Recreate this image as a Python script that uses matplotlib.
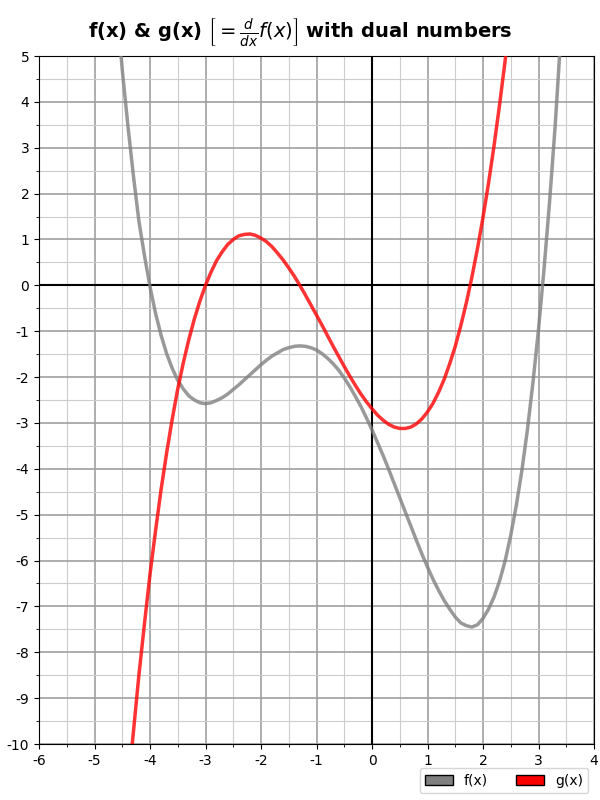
import matplotlib
matplotlib.use('Agg')
import numpy as np
import matplotlib.pyplot as plt
from matplotlib.patches import Patch
from matplotlib.ticker import MultipleLocator

x_f = np.round(np.linspace(-4.6, 3.4, 81), 1)
f_vals = [6.10, 4.70, 3.50, 2.40, 1.40, 0.65, -0.03, -0.61, -1.09, -1.49,
          -1.81, -2.07, -2.26, -2.41, -2.50, -2.56, -2.58, -2.56, -2.51, -2.45,
          -2.37, -2.27, -2.17, -2.06, -1.95, -1.84, -1.73, -1.63, -1.54, -1.47,
          -1.40, -1.36, -1.33, -1.32, -1.33, -1.36, -1.41, -1.49, -1.59, -1.71,
          -1.85, -2.02, -2.21, -2.42, -2.64, -2.89, -3.15, -3.43, -3.71, -4.01,
          -4.32, -4.63, -4.94, -5.25, -5.56, -5.86, -6.14, -6.41, -6.65, -6.87,
          -7.06, -7.23, -7.36, -7.42, -7.45, -7.40, -7.26, -7.06, -6.79, -6.44,
          -6.00, -5.45, -4.80, -4.04, -3.15, -2.12, -0.96, 0.36, 1.83, 3.47,
          5.40]

x_g = np.round(np.linspace(-4.4, 2.6, 71), 1)
g_vals = [-11.0, -9.75, -8.50, -7.38, -6.30, -5.35, -4.45, -3.65, -2.92, -2.26,
          -1.69, -1.18, -0.73, -0.34, 0.00, 0.29, 0.54, 0.73, 0.89, 1.00,
          1.08, 1.11, 1.12, 1.09, 1.03, 0.95, 0.84, 0.70, 0.55, 0.38,
          0.20, 0.00, -0.21, -0.43, -0.65, -0.87, -1.10, -1.33, -1.55, -1.77,
          -1.98, -2.18, -2.37, -2.54, -2.69, -2.83, -2.94, -3.03, -3.09, -3.12,
          -3.12, -3.09, -3.02, -2.91, -2.76, -2.57, -2.33, -2.05, -1.71, -1.33,
          -0.88, -0.38, 0.18, 0.80, 1.48, 2.23, 3.05, 3.95, 4.91, 5.95,
          7.07]

x_lim = (-6, 4)
y_lim = (-10, 5)


def main():
    plt.rcParams['axes.unicode_minus'] = False

    fig = plt.figure(figsize=(6, 8), dpi=100)
    ax = fig.add_axes([0.065, 0.07, 0.925, 0.86])

    ax.xaxis.set_major_locator(MultipleLocator(1))
    ax.xaxis.set_minor_locator(MultipleLocator(0.5))
    ax.yaxis.set_major_locator(MultipleLocator(1))
    ax.yaxis.set_minor_locator(MultipleLocator(0.5))
    ax.grid(which='major', color='#a0a0a0', linewidth=1.2)
    ax.grid(which='minor', color='#cccccc', linewidth=0.8)
    ax.set_axisbelow(True)

    ax.axhline(0, color='black', linewidth=1.5, zorder=2)
    ax.axvline(0, color='black', linewidth=1.5, zorder=2)

    ax.plot(x_f, f_vals, color='grey', alpha=0.8, linewidth=2.5, zorder=3)
    ax.plot(x_g, g_vals, color='red', alpha=0.8, linewidth=2.5, zorder=3)

    ax.set_xlim(x_lim)
    ax.set_ylim(y_lim)

    fig.suptitle(r'f(x) & g(x) $\left[= \frac{d}{dx}f(x)\right]$ with dual numbers',
                 fontsize=14, fontweight='bold', y=0.98, va='top')

    handles = [Patch(facecolor='grey', edgecolor='black', label='f(x)'),
               Patch(facecolor='red', edgecolor='black', label='g(x)')]
    ax.legend(handles=handles, loc='upper right', ncol=2,
              bbox_to_anchor=(0.99, -0.035), borderaxespad=0)

    fig.savefig('out.png')


if __name__ == '__main__':
    main()
